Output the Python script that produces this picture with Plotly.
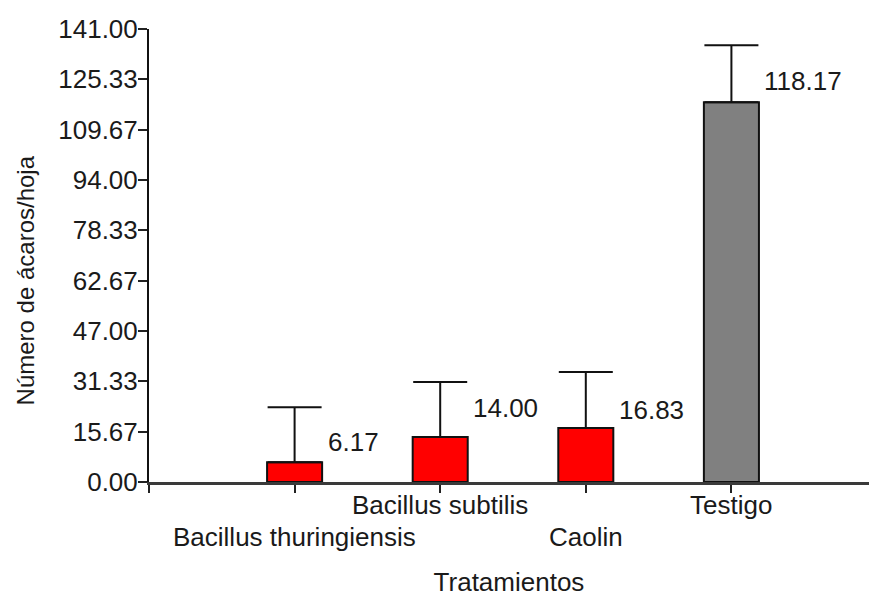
import plotly.graph_objects as go

# Treatments and mean mites per leaf
categories = ["Bacillus thuringiensis", "Bacillus subtilis", "Caolin", "Testigo"]
means = [6.17, 14.00, 16.83, 118.17]
errors = [17.1, 17.1, 17.4, 17.8]
y_ticks = [0.00, 15.67, 31.33, 47.00, 62.67, 78.33, 94.00, 109.67, 125.33, 141.00]

# styling
bar_colors = ["#FF0000", "#FF0000", "#FF0000", "#808080"]
label_row = [1, 0, 1, 0]          # staggered category labels: 0 = upper row, 1 = lower row
label_lift = [20, 29, 18, 21]     # vertical offset (px) of the value labels
FONT = "Arial, 'Liberation Sans', sans-serif"
INK = "#1a1a1a"
TXT = 26

xpos = [i + 1 for i in range(len(categories))]

fig = go.Figure()
fig.add_trace(go.Bar(
    x=xpos,
    y=means,
    width=0.378,
    marker=dict(color=bar_colors, line=dict(color="#111111", width=2)),
    error_y=dict(type="data", symmetric=False, array=errors,
                 arrayminus=[0] * len(errors),
                 color="#111111", thickness=2, width=27),
    hoverinfo="skip",
))

annotations = []
for x, cat, row in zip(xpos, categories, label_row):
    annotations.append(dict(
        x=x, xref="x", y=0, yref="paper", yanchor="top", xanchor="center",
        yshift=-6 - 32 * row, text=cat, showarrow=False,
        font=dict(family=FONT, size=TXT, color=INK),
    ))
for x, v, lift in zip(xpos, means, label_lift):
    annotations.append(dict(
        x=x, xref="x", y=v, yref="y", xanchor="left", yanchor="middle",
        xshift=31, yshift=lift, text=f"{v:.2f}", showarrow=False,
        font=dict(family=FONT, size=TXT, color=INK),
    ))
# y-axis title, centred a little below the middle of the axis
annotations.append(dict(
    x=0, xref="paper", y=0.445, yref="paper", xanchor="center", yanchor="middle",
    xshift=-124, textangle=-90, text="Número de ácaros/hoja", showarrow=False,
    font=dict(family=FONT, size=24, color=INK),
))

fig.update_layout(
    width=869, height=600,
    margin=dict(l=149, r=0, t=29, b=118),
    plot_bgcolor="white", paper_bgcolor="white",
    showlegend=False,
    font=dict(family=FONT, size=TXT, color=INK),
    annotations=annotations,
    xaxis=dict(
        range=[0, 4.945], tickvals=[0] + xpos, ticktext=[""] * (len(xpos) + 1),
        ticks="outside", ticklen=8, tickwidth=2, tickcolor="#222222",
        showline=True, linecolor="#3a3a3a", linewidth=3,
        showgrid=False, zeroline=False,
        title=dict(text="Tratamientos", standoff=76,
                   font=dict(family=FONT, size=TXT, color=INK)),
    ),
    yaxis=dict(
        range=[0, 141], tickvals=y_ticks, ticktext=[f"{v:.2f}" for v in y_ticks],
        ticks="outside", ticklen=9, tickwidth=2, tickcolor="#222222",
        ticklabelstandoff=-5,
        showline=True, linecolor="#111111", linewidth=2,
        showgrid=False, zeroline=False,
        tickfont=dict(family=FONT, size=TXT, color=INK),
    ),
)

fig.write_html("out.html")
